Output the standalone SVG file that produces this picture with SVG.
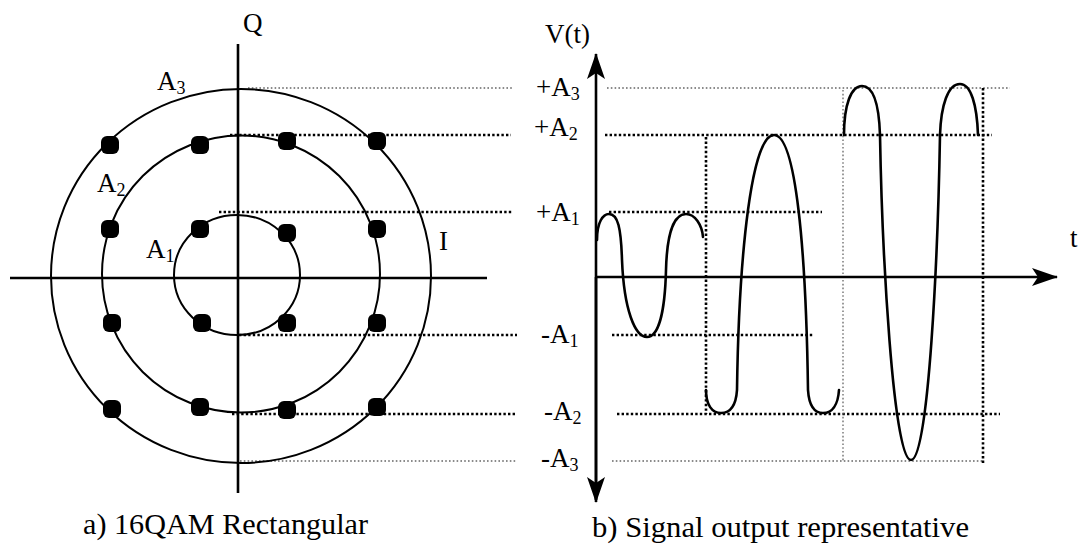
<svg xmlns="http://www.w3.org/2000/svg" width="1081" height="547" viewBox="0 0 1081 547" font-family="'Liberation Serif', 'Times New Roman', Tinos, 'DejaVu Serif', serif">
<style>
text{font-family:'Liberation Serif','Times New Roman',Tinos,'DejaVu Serif',serif;fill:#000}
.lbl{font-size:27px}
.sub{font-size:18px}
.cap{font-size:30px}
.axis{stroke:#000;stroke-width:2.6;fill:none}
.ring{stroke:#000;stroke-width:2;fill:none}
.wave{stroke:#000;stroke-width:2.6;fill:none;stroke-linecap:round}
.dk{stroke:#000;stroke-width:2.6;stroke-dasharray:2.4 2.2;fill:none}
.lt{stroke:#666;stroke-width:1.3;stroke-dasharray:1.6 2.2;fill:none}
.dot{fill:#000}
</style>
<defs>
<marker id="ah" viewBox="0 0 26 18" refX="25" refY="9" markerWidth="26" markerHeight="18" markerUnits="userSpaceOnUse" orient="auto">
<path d="M0,0 L26,9 L0,18 L6,9 Z" fill="#000"/>
</marker>
</defs>
<rect width="1081" height="547" fill="#fff"/>

<g id="guides">
<line class="lt" x1="248" y1="88" x2="513" y2="88"/>
<line class="lt" x1="607" y1="88" x2="1010" y2="88"/>
<line class="dk" x1="230" y1="135" x2="511" y2="135"/>
<line class="dk" x1="605" y1="135" x2="992" y2="135"/>
<line class="dk" x1="219" y1="212" x2="513" y2="212"/>
<line class="dk" x1="609" y1="212" x2="822" y2="212"/>
<line class="dk" x1="239" y1="335" x2="517" y2="335"/>
<line class="dk" x1="612" y1="335" x2="813" y2="335"/>
<line class="dk" x1="232" y1="414" x2="517" y2="414"/>
<line class="dk" x1="617" y1="414" x2="1000" y2="414"/>
<line class="lt" x1="240" y1="461" x2="517" y2="461"/>
<line class="lt" x1="612" y1="461" x2="984" y2="461"/>
<line class="dk" x1="706" y1="137" x2="706" y2="414"/>
<line class="lt" x1="843" y1="90" x2="843" y2="461"/>
<line class="dk" x1="983" y1="88" x2="983" y2="463"/>
</g>

<g id="constellation">
<ellipse class="ring" cx="241" cy="276" rx="190" ry="187"/>
<ellipse class="ring" cx="241" cy="274" rx="139" ry="138.5"/>
<ellipse class="ring" cx="237" cy="275" rx="63" ry="60"/>
<line class="axis" x1="10" y1="278" x2="487" y2="278"/>
<line class="axis" x1="238" y1="44" x2="238" y2="493"/>
<g id="points">
<rect class="dot" x="101" y="136" width="18" height="18" rx="6"/>
<rect class="dot" x="191" y="136" width="18" height="18" rx="6"/>
<rect class="dot" x="278" y="132" width="18" height="18" rx="6"/>
<rect class="dot" x="368" y="132" width="18" height="18" rx="6"/>
<rect class="dot" x="101" y="220" width="18" height="18" rx="6"/>
<rect class="dot" x="191" y="220" width="18" height="18" rx="6"/>
<rect class="dot" x="278" y="224" width="18" height="18" rx="6"/>
<rect class="dot" x="368" y="220" width="18" height="18" rx="6"/>
<rect class="dot" x="103" y="314" width="18" height="18" rx="6"/>
<rect class="dot" x="193" y="314" width="18" height="18" rx="6"/>
<rect class="dot" x="278" y="314" width="18" height="18" rx="6"/>
<rect class="dot" x="368" y="314" width="18" height="18" rx="6"/>
<rect class="dot" x="103" y="400" width="18" height="18" rx="6"/>
<rect class="dot" x="191" y="398" width="18" height="18" rx="6"/>
<rect class="dot" x="278" y="401" width="18" height="18" rx="6"/>
<rect class="dot" x="368" y="398" width="18" height="18" rx="6"/>
</g>
<text class="lbl" x="243" y="32">Q</text>
<text class="lbl" x="157" y="90">A<tspan class="sub" dy="4">3</tspan></text>
<text class="lbl" x="97" y="192">A<tspan class="sub" dy="4">2</tspan></text>
<text class="lbl" x="146" y="258">A<tspan class="sub" dy="4">1</tspan></text>
<text class="lbl" x="439" y="250">I</text>
<text class="cap" x="83" y="534" textLength="285" lengthAdjust="spacingAndGlyphs">a) 16QAM Rectangular</text>
</g>

<g id="signal">
<line class="axis" x1="596" y1="500" x2="596" y2="54" marker-end="url(#ah)"/>
<line class="axis" x1="596" y1="277" x2="596" y2="502" marker-end="url(#ah)"/>
<line class="axis" x1="596" y1="277" x2="1057" y2="277" marker-end="url(#ah)"/>
<path class="wave" d="M597,240 C597,222 603,214 609,214 C618,214 621,228 622,260 C624,310 635,337 647,337 C659,337 665,310 666,270 C667,230 675,214 686,214 C695,214 702,225 703,237"/>
<path class="wave" d="M706,390 C706,405 712,413 721,413 C731,413 736,405 737,390 C739,250 752,135 774,135 C796,135 806,250 808,390 C809,405 814,413 823,413 C832,413 838,405 839,390"/>
<path class="wave" d="M844,135 C844,105 851,86 862,86 C874,86 879,105 880,135 C882,250 893,460 911,460 C929,460 938,250 940,135 C941,105 948,84 960,84 C971,84 977,105 978,135"/>
<text class="lbl" x="545" y="43">V(t)</text>
<text class="lbl" x="536" y="96">+A<tspan class="sub" dy="4">3</tspan></text>
<text class="lbl" x="534" y="136">+A<tspan class="sub" dy="4">2</tspan></text>
<text class="lbl" x="536" y="221">+A<tspan class="sub" dy="4">1</tspan></text>
<text class="lbl" x="541" y="343">-A<tspan class="sub" dy="4">1</tspan></text>
<text class="lbl" x="544" y="420">-A<tspan class="sub" dy="4">2</tspan></text>
<text class="lbl" x="541" y="467">-A<tspan class="sub" dy="4">3</tspan></text>
<text class="lbl" x="1070" y="247">t</text>
<text class="cap" x="592" y="537" textLength="377" lengthAdjust="spacingAndGlyphs">b) Signal output representative</text>
</g>
</svg>
